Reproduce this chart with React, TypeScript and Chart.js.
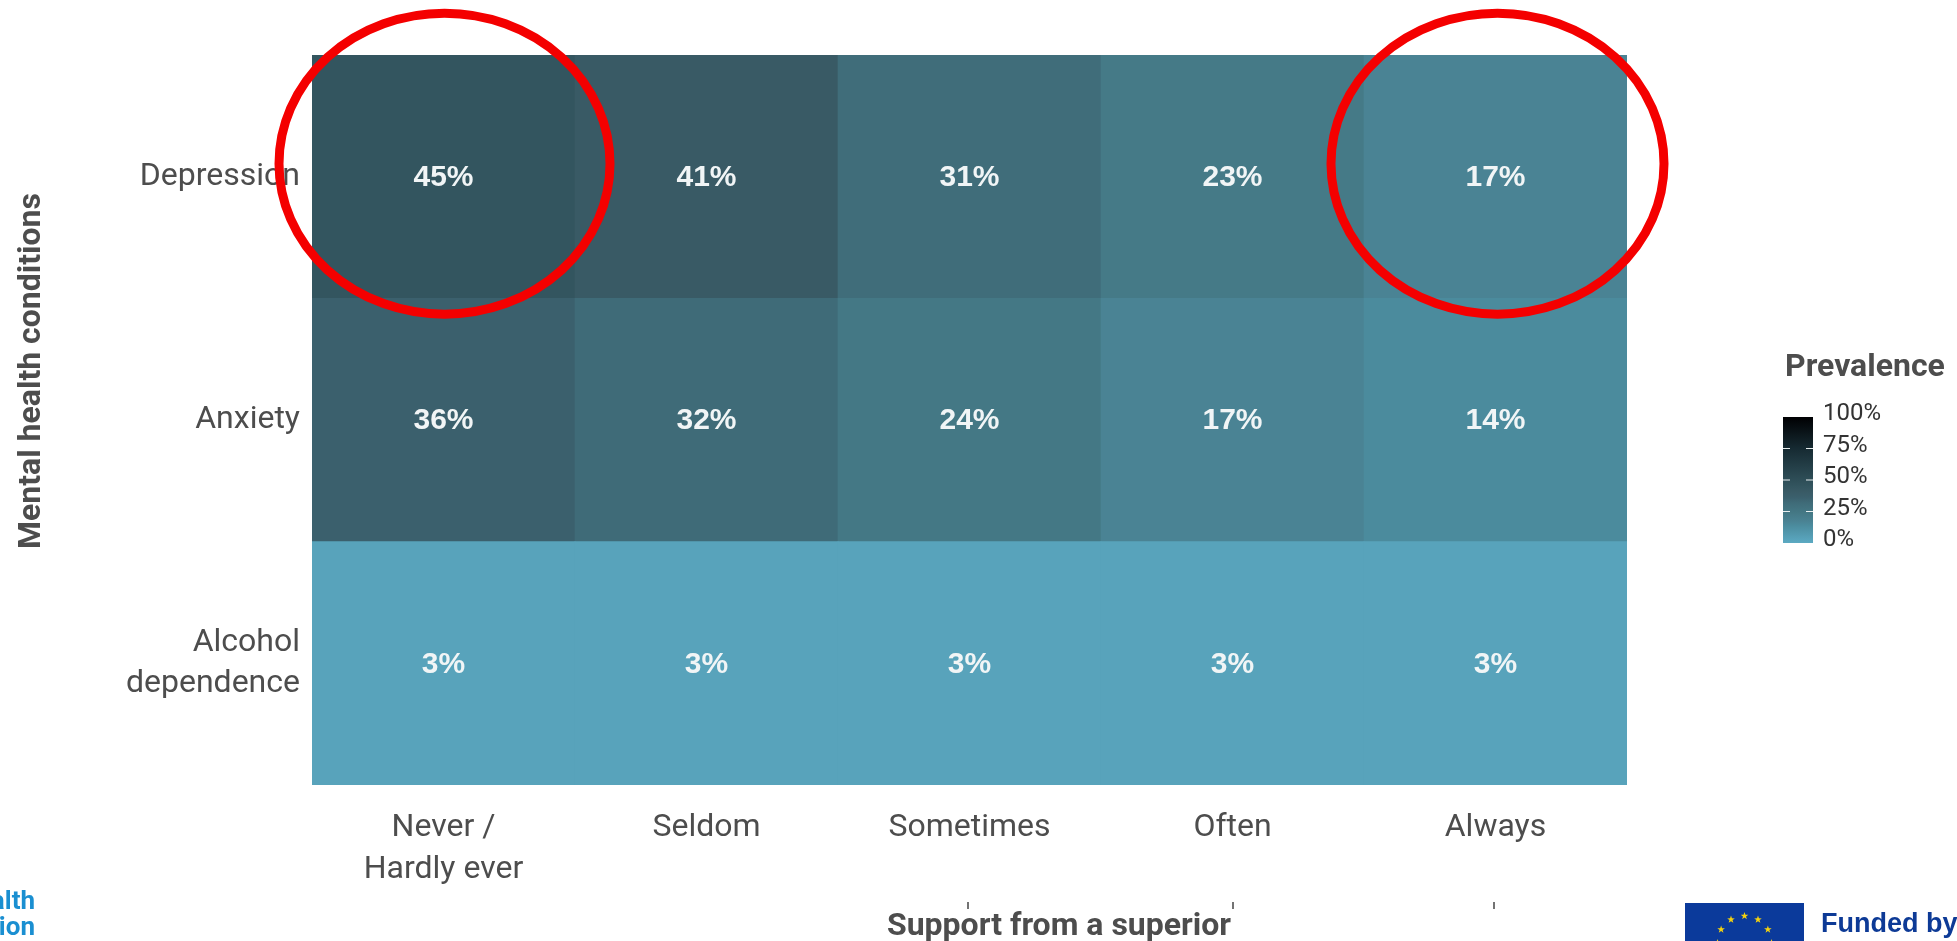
import React, { useEffect, useRef } from "react";
import { Chart, registerables } from "chart.js";

Chart.register(...registerables);

const supportLevels = [["Never /", "Hardly ever"], "Seldom", "Sometimes", "Often", "Always"];
const conditions = ["Alcohol dependence", "Anxiety", "Depression"];
const conditionLabels = [["Alcohol", "dependence"], "Anxiety", "Depression"];
const alcohol = [3, 3, 3, 3, 3];
const anxiety = [36, 32, 24, 17, 14];
const depression = [45, 41, 31, 23, 17];
const rows = [alcohol, anxiety, depression];
const legendTicks = [100, 75, 50, 25, 0];

const colorStops: [number, number[]][] = [
  [0, [92, 170, 194]],
  [3, [88, 163, 187]],
  [14, [75, 139, 157]],
  [17, [74, 131, 148]],
  [24, [68, 120, 133]],
  [32, [63, 107, 120]],
  [36, [59, 96, 109]],
  [41, [57, 90, 101]],
  [45, [51, 85, 95]],
  [75, [22, 42, 50]],
  [100, [0, 0, 2]],
];

function colorOf(v: number) {
  for (let i = 1; i < colorStops.length; i++) {
    const [a, ca] = colorStops[i - 1];
    const [b, cb] = colorStops[i];
    if (v <= b) {
      const t = (v - a) / (b - a);
      const c = ca.map((x, k) => Math.round(x + (cb[k] - x) * t));
      return `rgb(${c[0]},${c[1]},${c[2]})`;
    }
  }
  return "rgb(0,0,2)";
}

const ROBOTO = "Roboto, sans-serif";
const LIB = "'Liberation Sans', Arial, sans-serif";

function star(ctx: CanvasRenderingContext2D, cx: number, cy: number, r: number) {
  ctx.beginPath();
  for (let i = 0; i < 10; i++) {
    const a = -Math.PI / 2 + (i * Math.PI) / 5;
    const rr = i % 2 ? r * 0.4 : r;
    ctx.lineTo(cx + rr * Math.cos(a), cy + rr * Math.sin(a));
  }
  ctx.closePath();
  ctx.fill();
}

const decorPlugin = {
  id: "decor",
  afterDatasetsDraw(chart: any) {
    const ctx: CanvasRenderingContext2D = chart.ctx;
    const xs = chart.scales.x;
    const ys = chart.scales.y;
    ctx.save();

    // cell labels
    ctx.fillStyle = "#f1f5f6";
    ctx.font = `bold 30px ${LIB}`;
    ctx.textAlign = "center";
    ctx.textBaseline = "middle";
    chart.data.datasets.forEach((_: any, di: number) => {
      chart.getDatasetMeta(di).data.forEach((el: any, i: number) => {
        const p = el.getCenterPoint();
        ctx.fillText(`${rows[di][i]}%`, p.x, p.y + 1);
      });
    });

    // axis titles
    ctx.fillStyle = "#4d4d4d";
    ctx.font = `bold 32px ${ROBOTO}`;
    ctx.textAlign = "center";
    ctx.fillText("Support from a superior", 1059, 927);
    ctx.save();
    ctx.translate(32, 371);
    ctx.rotate(-Math.PI / 2);
    ctx.fillText("Mental health conditions", 0, 0);
    ctx.restore();

    // small marks above the x title
    ctx.strokeStyle = "#444";
    ctx.lineWidth = 1.5;
    [968, 1233, 1494].forEach((x) => {
      ctx.beginPath();
      ctx.moveTo(x, 902);
      ctx.lineTo(x, 909);
      ctx.stroke();
    });

    // red circles around the extreme depression cells
    ctx.strokeStyle = "#f40000";
    ctx.lineWidth = 9;
    const cy = ys.getPixelForValue(2.5) - 13;
    [[0, 1, 165.5], [4, 2, 166.5]].forEach(([i, dx, rx]) => {
      ctx.beginPath();
      ctx.ellipse(xs.getPixelForValue(i) + dx, cy, rx, 150.5, 0, 0, Math.PI * 2);
      ctx.stroke();
    });

    // colour legend
    ctx.fillStyle = "#4d4d4d";
    ctx.font = `bold 32px ${ROBOTO}`;
    ctx.textAlign = "left";
    ctx.fillText("Prevalence", 1785, 368);
    const top = 417;
    const bot = 543;
    const g = ctx.createLinearGradient(0, top, 0, bot);
    colorStops.forEach(([v]) => g.addColorStop(1 - v / 100, colorOf(v)));
    ctx.fillStyle = g;
    ctx.fillRect(1783, top, 30, bot - top);
    ctx.font = `24px ${ROBOTO}`;
    legendTicks.forEach((v) => {
      const y = bot - ((bot - top) * v) / 100;
      ctx.fillStyle = "#333";
      ctx.fillText(`${v}%`, 1823, y - 3);
      if (v > 0 && v < 100) {
        ctx.fillStyle = "#e8eeef";
        ctx.fillRect(1783, y - 0.5, 7, 1);
        ctx.fillRect(1806, y - 0.5, 7, 1);
      }
    });

    // logos, cropped by the page edges
    ctx.fillStyle = "#1a8fd1";
    ctx.font = `bold 26px ${ROBOTO}`;
    ctx.textAlign = "right";
    ctx.textBaseline = "alphabetic";
    ctx.fillText("alth", 35, 909);
    ctx.fillText("ion", 35, 935);

    ctx.fillStyle = "#0b3a9b";
    ctx.fillRect(1685, 903, 119, 38);
    ctx.fillStyle = "#f5d20f";
    for (let k = 0; k < 12; k++) {
      const a = (k * Math.PI) / 6;
      star(ctx, 1744.5 + 27 * Math.sin(a), 943 - 27 * Math.cos(a), 4);
    }
    ctx.fillStyle = "#0d3a96";
    ctx.font = `bold 27px ${LIB}`;
    ctx.textAlign = "left";
    ctx.fillText("Funded by", 1821, 932);
    ctx.restore();
  },
};

export default function App() {
  const ref = useRef<HTMLCanvasElement>(null);
  useEffect(() => {
    document.body.style.margin = "0";
    document.body.style.background = "#fff";
    const chart = new Chart(ref.current!, {
      type: "bar",
      plugins: [decorPlugin],
      data: {
        labels: supportLevels as any,
        datasets: rows.map((vals, r) => ({
          label: conditions[r],
          data: vals.map(() => [r, r + 1]) as any,
          backgroundColor: vals.map(colorOf),
          borderWidth: 0,
          barPercentage: 1,
          categoryPercentage: 1,
          grouped: false,
        })),
      },
      options: {
        responsive: false,
        animation: false,
        layout: { padding: { top: 55, right: 330, left: 0, bottom: 0 } },
        plugins: { legend: { display: false }, tooltip: { enabled: false } },
        scales: {
          x: {
            grid: { display: false, drawTicks: false },
            border: { display: false },
            afterFit(s: any) { s.height = 156; },
            ticks: {
              color: "#4d4d4d",
              font: { family: ROBOTO, size: 32, lineHeight: 1.32 },
              padding: 22,
              maxRotation: 0,
              autoSkip: false,
            },
          },
          y: {
            min: 0,
            max: 3,
            grid: { display: false, drawTicks: false },
            border: { display: false },
            afterFit(s: any) { s.width = 312; },
            afterBuildTicks(s: any) { s.ticks = [0.5, 1.5, 2.5].map((value) => ({ value })); },
            ticks: {
              color: "#4d4d4d",
              font: { family: ROBOTO, size: 32, lineHeight: 1.3 },
              padding: 12,
              autoSkip: false,
              callback: (v: any) => conditionLabels[Math.floor(Number(v))] as any,
            },
          },
        },
      },
    });
    return () => chart.destroy();
  }, []);
  return <canvas ref={ref} width={1957} height={941} style={{ display: "block" }} />;
}
